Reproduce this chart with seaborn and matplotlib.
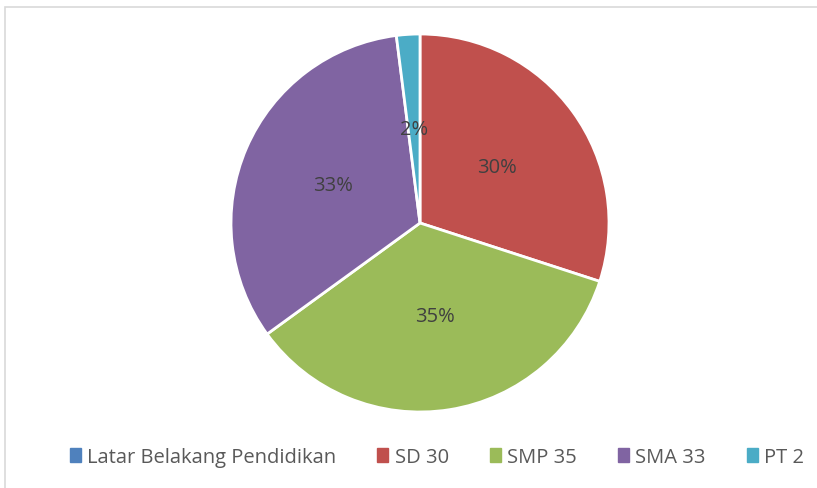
import matplotlib.pyplot as plt
import matplotlib.patches as mpatches
import seaborn as sns

categories = ["Latar Belakang Pendidikan", "SD 30", "SMP 35", "SMA 33", "PT 2"]
values = [0, 30, 35, 33, 2]
colors = sns.color_palette(["#4F81BD", "#C0504D", "#9BBB59", "#8064A2", "#4BACC6"])

sns.set_theme(style="white")
plt.rcParams["font.family"] = ["Open Sans", "DejaVu Sans"]

fig = plt.figure(figsize=(8.17, 4.89), dpi=100)
fig.patches.append(mpatches.Rectangle((5 / 817, -0.1), 1.2, 1 - 8 / 489 + 0.1,
                                      transform=fig.transFigure, fill=False,
                                      edgecolor="#d9d9d9", linewidth=1.2))

ax = fig.add_axes([420 / 817 - 0.2315, 265 / 489 - 0.3865, 0.463, 0.773])


def pct(p):
    return "" if p < 0.5 else f"{p:.0f}%"


wedges, _, autotexts = ax.pie(values, colors=colors, startangle=90, counterclock=False,
                              autopct=pct, pctdistance=0.5,
                              wedgeprops={"edgecolor": "white", "linewidth": 2})
for t in autotexts:
    t.set_color("#404040")
    t.set_fontsize(14.5)
ax.set_xlim(-1, 1)
ax.set_ylim(-1, 1)
ax.set_aspect("equal")
ax.axis("off")

handles = [mpatches.Patch(color=c, label=l) for c, l in zip(colors, categories)]
leg = fig.legend(handles=handles, loc="center", bbox_to_anchor=(437 / 817, 1 - 458 / 489),
                 ncol=5, frameon=False, fontsize=14.5, handlelength=0.55, handleheight=0.75,
                 handletextpad=0.3, columnspacing=2.05)
for t in leg.get_texts():
    t.set_color("#595959")

fig.savefig("out.png", dpi=100)
